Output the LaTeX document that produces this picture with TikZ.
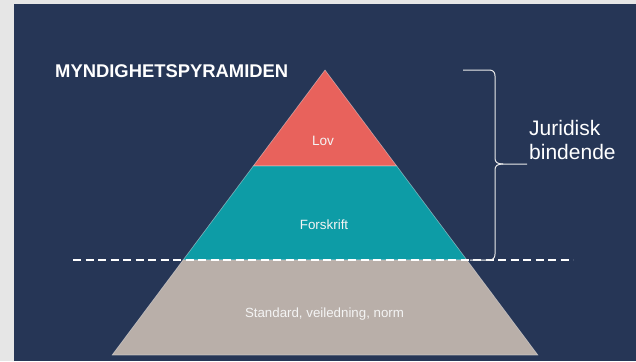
\documentclass[tikz,border=0pt]{standalone}
\usepackage{fontspec}
\setmainfont{Liberation Sans}
\definecolor{outerbg}{HTML}{E6E6E6}
\definecolor{navy}{HTML}{263656}
\definecolor{lovred}{HTML}{E8625C}
\definecolor{teal}{HTML}{0D9CA6}
\definecolor{stdgray}{HTML}{B9AFA9}
\definecolor{txtw}{HTML}{F4F4F4}
\begin{document}
\begin{tikzpicture}[x=1pt,y=-1pt,
  layer/.style={draw=white!80!gray,draw opacity=0.5,line width=0.6pt},
  lbl/.style={text=txtw,inner sep=0pt,anchor=center},
  bracestyle/.style={draw=white!85!gray,line width=1pt,line join=round}]
\useasboundingbox (0,0) rectangle (636,361);
\fill[outerbg] (0,0) rectangle (636,361);
\fill[navy] (14,4) rectangle (636,361);
% pyramid coordinates
\coordinate (apex) at (325,70);
\coordinate (l1) at (253.3,166);
\coordinate (r1) at (396.7,166);
\coordinate (l2) at (183.1,260);
\coordinate (r2) at (466.9,260);
\coordinate (l3) at (112.1,355);
\coordinate (r3) at (537.9,355);
\path[layer,fill=lovred] (apex) -- (r1) -- (l1) -- cycle;
\path[layer,fill=teal] (l1) -- (r1) -- (r2) -- (l2) -- cycle;
\path[layer,fill=stdgray] (l2) -- (r2) -- (r3) -- (l3) -- cycle;
% labels
\node[lbl,font=\fontsize{13.6}{16}\selectfont] (lov) at (323,141) {Lov};
\node[lbl,font=\fontsize{13.4}{16}\selectfont] (forskrift) at (324,225) {Forskrift};
\node[lbl,font=\fontsize{13.3}{16}\selectfont] (standard) at (324.5,314) {Standard, veiledning, norm};
\node[anchor=base west,inner sep=0pt,text=white,font=\bfseries\fontsize{18.4}{22}\selectfont] (title) at (55,77) {MYNDIGHETSPYRAMIDEN};
\node[anchor=base west,inner sep=0pt,text=white,align=left,font=\fontsize{21}{24}\selectfont] (jur) at (529,159) {Juridisk\\bindende};
% dashed line
\coordinate (dl) at (73,260);
\coordinate (dr) at (573,260);
\draw[white,line width=1.6pt,dash pattern=on 8pt off 4.5pt] (dl) -- (dr);
% brace
\coordinate (btop) at (463,70);
\coordinate (bbot) at (470,260);
\coordinate (btip) at (527,164);
\draw[bracestyle] (btop) -- (489,70) .. controls (493,70) and (495,72) .. (495,76)
  -- (495,158) .. controls (495,162) and (497,164) .. (503,164) -- (btip);
\draw[bracestyle] (503,164) .. controls (497,164) and (495,166) .. (495,170)
  -- (495,254) .. controls (495,258) and (493,260) .. (489,260) -- (bbot);
\end{tikzpicture}
\end{document}
